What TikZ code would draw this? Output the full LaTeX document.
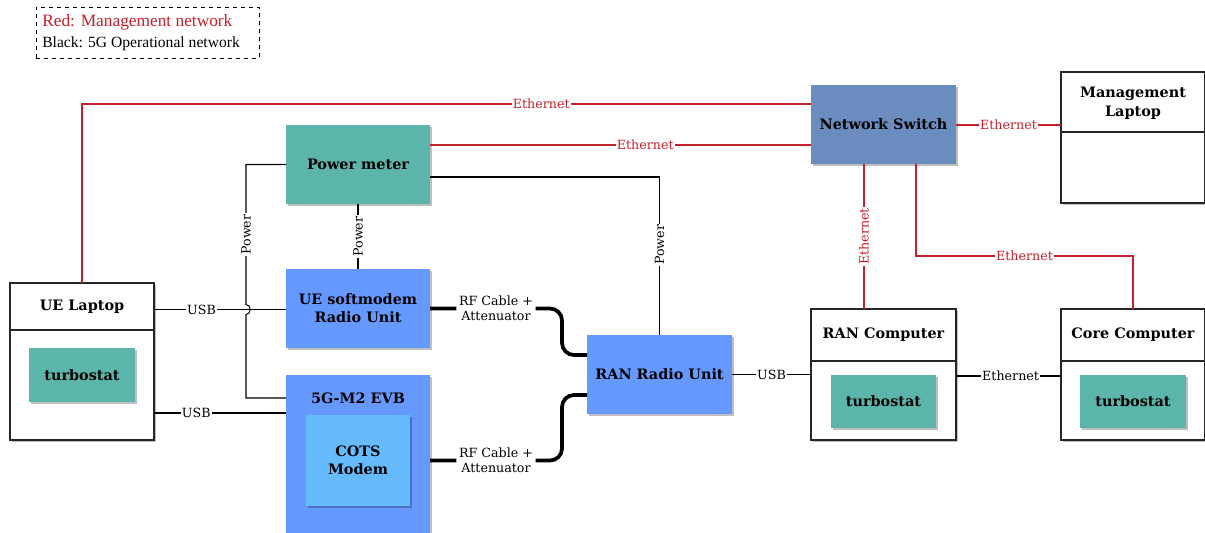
\documentclass[tikz,border=0pt]{standalone}
\usepackage{fontspec}
\setmainfont{DejaVu Serif}
\newfontfamily\legfont{Liberation Serif}
\usetikzlibrary{shadows}
\definecolor{tealbox}{HTML}{5CB5AA}
\definecolor{bluebox}{HTML}{6699FF}
\definecolor{lbluebox}{HTML}{66BBFF}
\definecolor{swbox}{HTML}{6A8CBE}
\definecolor{mred}{HTML}{C8202A}
\begin{document}
\begin{tikzpicture}[x=0.75pt,y=-0.75pt,
  sz/.style 2 args={minimum width=#1*0.75pt, minimum height=#2*0.75pt},
  shd/.style={drop shadow={shadow xshift=1.8pt, shadow yshift=-1.8pt, opacity=0.25, fill=black}},
  fillbox/.style={shd, inner sep=0pt, outer sep=0pt, align=center, font=\fontsize{10.8}{13.5}\selectfont\bfseries},
  tealnode/.style={fillbox, fill=tealbox},
  bluenode/.style={fillbox, fill=bluebox},
  pcbox/.style={shd, draw=black!85, line width=1.1pt, fill=white, inner sep=0pt, outer sep=0pt},
  ttl/.style={align=center, font=\fontsize{10.8}{14.5}\selectfont\bfseries, inner sep=0pt},
  blk/.style={draw=black, line width=0.8pt},
  redl/.style={draw=mred, line width=0.8pt},
  rf/.style={draw=black, line width=2.8pt, rounded corners=9pt},
  lbl/.style={fill=white, inner sep=1pt, font=\fontsize{9.5}{11.5}\selectfont},
  rlbl/.style={lbl, text=mred},
  vlbl/.style={lbl, rotate=90},
  rvlbl/.style={rlbl, rotate=90}
]
\clip (0,0) rectangle (1205,532);
\fill[white] (0,0) rectangle (1205,532);

% legend
\node[draw, dashed, line width=0.7pt, sz={223}{51}, anchor=north west, inner sep=0pt] (leg) at (36,7) {};
\node[anchor=west, text=mred, font=\legfont\fontsize{13}{15}\selectfont, inner sep=0pt] (legr) at (42,22) {Red: Management network};
\node[anchor=west, font=\legfont\fontsize{11.7}{13}\selectfont, inner sep=0pt] (legb) at (42,43.5) {Black: 5G Operational network};

% UE laptop
\node[pcbox, sz={144}{157}] (uel) at (82,361.5) {};
\draw[line width=1.1pt, black!85] (uel.west |- 0,330) -- (uel.east |- 0,330);
\node[ttl] (uelt) at (82,306.5) {UE Laptop};
\node[tealnode, sz={106}{54}] (tsa) at (82,375) {turbostat};

% power meter, UE RU, EVB
\node[tealnode, sz={144}{79}] (pm) at (358,164.5) {Power meter};
\node[bluenode, sz={144}{79}] (ueru) at (358,308.5) {UE softmodem\\Radio Unit};
\node[bluenode, sz={144}{165}] (evb) at (358,457.5) {};
\node[ttl] (evbt) at (358,398) {5G-M2 EVB};
\node[fillbox, fill=lbluebox, sz={104}{91}] (cots) at (358,460.5) {COTS\\Modem};

% RAN radio unit
\node[bluenode, sz={145}{79}] (rru) at (659.5,374.5) {RAN Radio Unit};

% switch
\node[fillbox, fill=swbox, sz={145}{79}] (sw) at (883.5,124.5) {Network Switch};

% management laptop
\node[pcbox, sz={144}{131}] (mgl) at (1133,137.5) {};
\draw[line width=1.1pt, black!85] (mgl.west |- 0,132) -- (mgl.east |- 0,132);
\node[ttl] (mglt) at (1133,103) {Management\\Laptop};

% RAN computer
\node[pcbox, sz={145}{131}] (ranc) at (883.5,374.5) {};
\draw[line width=1.1pt, black!85] (ranc.west |- 0,361) -- (ranc.east |- 0,361);
\node[ttl] (ranct) at (883.5,335) {RAN Computer};
\node[tealnode, sz={105}{53}] (tsb) at (883.5,401.5) {turbostat};

% Core computer
\node[pcbox, sz={144}{131}] (corec) at (1133,374.5) {};
\draw[line width=1.1pt, black!85] (corec.west |- 0,361) -- (corec.east |- 0,361);
\node[ttl] (corect) at (1133,335) {Core Computer};
\node[tealnode, sz={106}{53}] (tsc) at (1133,401.5) {turbostat};

% red connectors
\draw[redl] (uel.north) -- (82,104) -- node[rlbl, pos=0.63] {Ethernet} (sw.west |- 0,104);
\draw[redl] (pm.east |- 0,145) -- node[rlbl, pos=0.565] {Ethernet} (sw.west |- 0,145);
\draw[redl] (sw.east |- 0,125) -- node[rlbl] {Ethernet} (mgl.west |- 0,125);
\draw[redl] (sw.south -| 864,0) -- node[rvlbl] {Ethernet} (ranc.north -| 864,0);
\draw[redl] (sw.south -| 916,0) -- (916,256) -- node[rlbl] {Ethernet} (1133,256) -- (corec.north);

% black connectors
\draw[blk] (pm.west) -- (246,164.5) -- node[vlbl] {Power} (246,304.5)
  .. controls (251.5,304.5) and (251.5,314.5) .. (246,314.5) -- (246,398) -- (evb.west |- 0,398);
\draw[blk] (pm.south) -- node[vlbl] {Power} (ueru.north);
\draw[blk] (pm.east |- 0,177) -- (659.5,177) -- node[vlbl, pos=0.43] {Power} (rru.north);
\draw[blk] (uel.east |- 0,309.5) -- node[lbl, pos=0.36] {USB} (ueru.west |- 0,309.5);
\draw[blk] (uel.east |- 0,413) -- node[lbl, pos=0.32] {USB} (evb.west |- 0,413);
\draw[blk] (rru.east) -- node[lbl] {USB} (ranc.west |- rru.east);
\draw[blk] (ranc.east |- 0,376) -- node[lbl, pos=0.52] {Ethernet} (corec.west |- 0,376);

% RF cables
\draw[rf] (ueru.east) -- node[lbl, align=center, inner sep=2pt] {RF Cable +\\Attenuator} (562,308.5) -- (562,355) -- (rru.west |- 0,355);
\draw[rf] (evb.east |- cots.east) -- node[lbl, align=center, inner sep=2pt] {RF Cable +\\Attenuator} (562,460.5) -- (562,395) -- (rru.west |- 0,395);
\end{tikzpicture}
\end{document}
